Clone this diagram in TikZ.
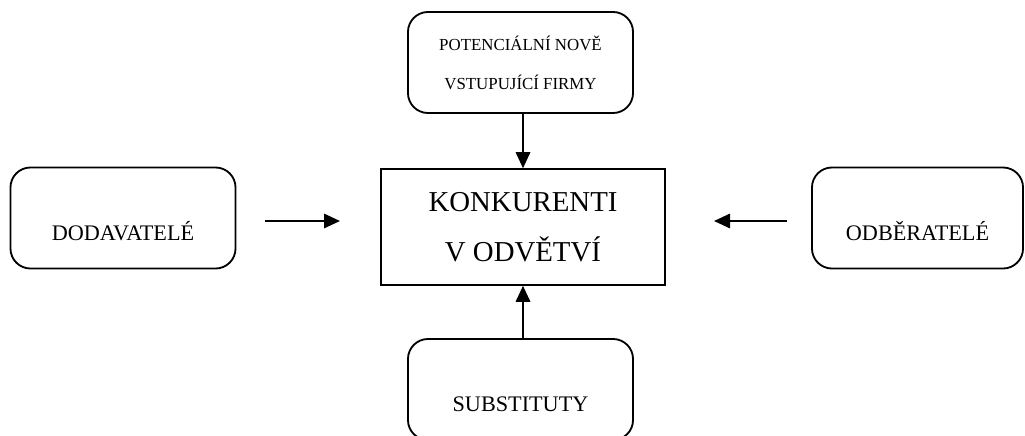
\documentclass[tikz,border=0pt]{standalone}
\usepackage{fontspec}
\setmainfont{Liberation Serif}
\usetikzlibrary{arrows.meta}

\tikzset{
  blok/.style={draw, line width=1.3pt, rounded corners=0.5cm,
    minimum width=5.625cm, minimum height=2.525cm, align=center,
    font=\fontsize{15.8}{18}\selectfont, text height=1.1cm, text depth=0pt},
  sipka/.style={line width=1.4pt, -{Triangle[length=0.4cm, width=0.36cm]}}
}

\begin{document}
\begin{tikzpicture}[x=0.025cm, y=-0.025cm]
  \clip (0,0) rectangle (1025,435);

  % stred modelu
  \node[draw, line width=1.1pt, minimum width=7.1cm, minimum height=2.9cm,
    align=center, font=\fontsize{20.5}{35.5}\selectfont] (konk) at (523,227)
    {KONKURENTI\\V ODVĚTVÍ};

  \node[blok, font=\fontsize{12}{27.7}\selectfont, text height=, text depth=]
    (nove) at (520.5,62.5) {POTENCIÁLNÍ NOVĚ\\VSTUPUJÍCÍ FIRMY};
  \node[blok] (dod) at (123,218) {DODAVATELÉ};
  \node[blok, minimum width=5.275cm] (odb) at (917.5,218) {ODBĚRATELÉ};
  \node[blok] (sub) at (520.5,389.5) {SUBSTITUTY};

  \coordinate (dodA) at (265,221);
  \coordinate (dodB) at (340,221);
  \coordinate (odbA) at (787,221);
  \coordinate (odbB) at (714,221);

  \draw[sipka] (nove.south -| konk.north) -- (konk.north);
  \draw[sipka] (sub.north -| konk.south) -- (konk.south);
  \draw[sipka] (dodA) -- (dodB);
  \draw[sipka] (odbA) -- (odbB);
\end{tikzpicture}
\end{document}
